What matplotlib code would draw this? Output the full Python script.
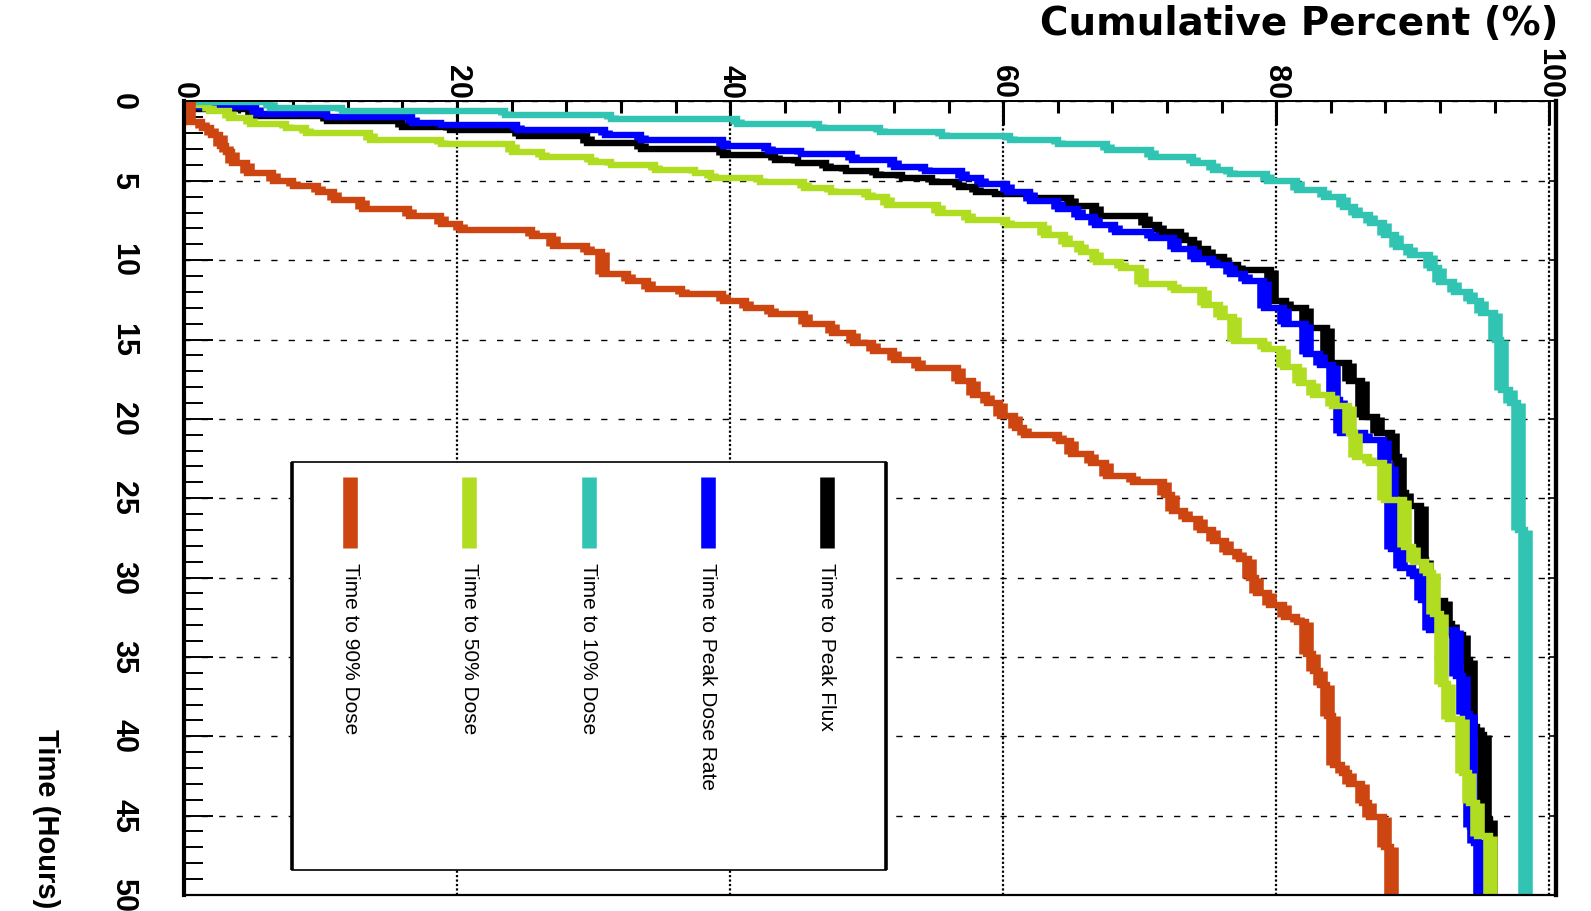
import matplotlib

matplotlib.use("Agg")
import matplotlib.pyplot as plt
import numpy as np
from matplotlib.patches import Rectangle
from matplotlib.ticker import MultipleLocator, NullLocator

NARROW = ["Liberation Sans Narrow", "Liberation Sans", "DejaVu Sans"]
plt.rcParams["font.family"] = NARROW

T_MAX = 50.0
PCT_TICKS = [0, 20, 40, 60, 80, 100]
TIME_TICKS = [0, 5, 10, 15, 20, 25, 30, 35, 40, 45, 50]

# each curve: time (hours) where a step starts, cumulative percent held from there
t_flux = [0, 0.45, 0.9, 1.2, 1.6, 1.8, 2.2, 2.6, 3.0, 3.35, 3.7, 3.9, 4.2, 4.4, 4.65,
          4.85, 5.1, 5.4, 5.7, 5.85, 6.1, 6.6, 7.2, 7.8, 8.2, 8.7, 9.3, 9.8, 10.3, 10.6,
          12.6, 13.0, 14.3, 16.5, 17.6, 19.9, 20.9, 22.4, 24.7, 25.5, 28.9, 31.5, 32.9,
          33.6, 35.2, 39.4, 39.9, 45.3]
p_flux = [0.4, 5.0, 10.5, 16.0, 19.5, 24.5, 29.5, 33.5, 39.5, 43.3, 45.0, 47.0, 48.5,
          50.7, 52.6, 54.8, 56.8, 58.0, 59.4, 62.0, 65.0, 66.8, 70.4, 71.4, 73.0, 74.0,
          75.0, 76.2, 77.2, 79.6, 80.7, 82.2, 83.7, 85.3, 86.3, 87.4, 88.5, 89.0, 89.5,
          90.6, 91.0, 92.4, 92.9, 93.7, 94.2, 94.7, 95.2, 95.7]

t_rate = [0, 0.33, 0.8, 1.0, 1.35, 1.5, 1.8, 2.1, 2.4, 2.8, 3.1, 3.3, 3.7, 4.1, 4.4,
          4.8, 5.2, 5.7, 6.3, 6.8, 7.3, 7.8, 8.2, 8.6, 9.3, 9.9, 10.3, 10.9, 11.3, 13.0,
          14.0, 15.9, 16.6, 18.8, 20.9, 21.3, 23.0, 28.2, 29.4, 29.9, 31.4, 33.3, 36.2,
          38.6, 45.7, 46.7]
p_rate = [0.4, 5.3, 10.5, 16.7, 18.8, 24.4, 30.8, 33.5, 39.5, 42.8, 45.2, 48.9, 52.0,
          54.3, 57.0, 58.4, 60.3, 62.0, 64.0, 65.5, 66.7, 68.2, 70.8, 72.5, 74.0, 75.4,
          76.6, 77.7, 79.1, 80.6, 82.2, 83.2, 84.2, 84.7, 86.5, 87.9, 88.4, 89.1, 90.0,
          90.6, 91.2, 93.2, 93.7, 94.2, 94.5, 94.9]

t_50 = [0, 0.2, 0.6, 1.05, 1.4, 1.7, 2.0, 2.4, 2.7, 3.2, 3.5, 3.8, 4.0, 4.3, 4.5, 4.85,
        5.1, 5.45, 5.7, 6.05, 6.5, 7.0, 7.45, 7.8, 8.4, 9.0, 9.5, 10.1, 10.5, 11.5, 11.9,
        12.8, 13.6, 15.1, 15.6, 16.7, 17.75, 18.5, 19.2, 20.9, 22.4, 22.8, 25.1, 28.1,
        29.0, 29.7, 32.3, 36.7, 38.9, 42.3, 44.2, 46.3]
p_50 = [0.4, 1.8, 3.3, 4.8, 7.5, 8.9, 13.6, 18.8, 24.0, 26.2, 29.8, 31.3, 34.5, 37.4,
        38.6, 42.2, 45.4, 47.4, 50.1, 51.5, 55.2, 57.4, 60.3, 63.0, 64.5, 65.7, 66.8,
        68.6, 70.1, 72.5, 74.7, 75.9, 76.9, 79.1, 80.5, 81.7, 82.7, 84.1, 85.3, 85.8,
        86.8, 87.9, 89.4, 90.0, 91.0, 91.5, 92.1, 92.6, 93.6, 94.1, 94.7, 95.7]

t_10 = [0, 0.05, 0.43, 0.6, 0.85, 1.1, 1.4, 1.67, 1.9, 2.17, 2.4, 2.7, 3.05, 3.5, 3.9,
        4.3, 4.6, 5.0, 5.6, 6.0, 6.65, 7.15, 7.65, 8.4, 9.2, 9.7, 10.5, 11.4, 12.0, 12.6,
        13.3, 15.0, 18.2, 19.0, 27.0]
p_10 = [0.8, 6.3, 11.6, 23.5, 31.3, 40.5, 46.5, 51.0, 55.5, 60.5, 64.0, 67.6, 70.8,
        73.9, 75.4, 76.6, 79.3, 81.5, 83.5, 84.9, 85.8, 86.9, 87.9, 88.8, 89.8, 91.3,
        91.9, 93.0, 94.2, 95.0, 96.0, 96.5, 97.1, 97.7, 98.2]

t_90 = [0, 1.3, 1.7, 2.1, 2.8, 3.2, 3.9, 4.5, 5.0, 5.3, 5.7, 6.2, 6.8, 7.2, 7.7, 8.1,
        8.5, 9.1, 9.5, 10.9, 11.3, 11.8, 12.1, 12.6, 13.0, 13.4, 14.0, 14.6, 15.2, 15.7,
        16.3, 16.8, 17.6, 18.5, 19.0, 19.8, 20.6, 21.0, 21.4, 22.2, 22.8, 23.6, 24.0,
        24.8, 25.8, 26.3, 27.0, 27.7, 28.4, 28.8, 30.0, 31.0, 31.7, 32.5, 32.8, 34.8,
        35.9, 36.8, 38.7, 41.8, 42.3, 43.0, 44.2, 45.1, 47.0]
p_90 = [0.3, 1.3, 2.0, 2.6, 3.1, 3.5, 4.6, 6.5, 8.0, 9.8, 11.0, 13.0, 16.5, 18.8, 20.2,
        25.5, 27.0, 29.5, 30.6, 32.5, 34.0, 36.5, 39.5, 41.2, 43.0, 45.5, 47.5, 49.0,
        50.5, 52.0, 53.8, 56.7, 57.8, 58.8, 59.8, 60.9, 61.5, 64.1, 65.0, 66.4, 67.5,
        69.5, 71.8, 72.4, 73.3, 74.4, 75.4, 76.3, 77.3, 78.0, 78.5, 79.5, 80.6, 81.5,
        82.2, 82.7, 83.2, 83.7, 84.2, 84.8, 85.3, 86.3, 86.8, 87.9, 88.4]

LABELS = ["Time to 90% Dose", "Time to 50% Dose", "Time to 10% Dose",
          "Time to Peak Dose Rate", "Time to Peak Flux"]
COLORS = ["#CD4510", "#B0DD22", "#32C4B3", "#0000FF", "#000000"]

H_LW = 4.6   # jump segments (pt)
V_LW = 10.5  # plateau segments, drawn fatter like the stretched original


def draw_steps(ax, t, p, color, z):
    t = np.asarray(list(t) + [T_MAX], dtype=float)
    p = np.asarray(p, dtype=float)
    ys = np.repeat(t, 2)[1:-1]
    xs = np.repeat(p, 2)
    ax.plot(xs, ys, color=color, lw=H_LW, solid_joinstyle="miter",
            solid_capstyle="butt", zorder=z)
    ax.vlines(p, t[:-1], t[1:], colors=color, lw=V_LW, zorder=z)


fig = plt.figure(figsize=(15.91, 9.11), dpi=100)
ax = fig.add_axes([0.1157, 0.0176, 0.8623, 0.871])

# draw order: flux underneath, 90% on top
draw_steps(ax, t_flux, p_flux, COLORS[4], 3)
draw_steps(ax, t_rate, p_rate, COLORS[3], 4)
draw_steps(ax, t_50, p_50, COLORS[1], 5)
draw_steps(ax, t_10, p_10, COLORS[2], 5)
draw_steps(ax, t_90, p_90, COLORS[0], 6)

ax.set_xlim(0, 100.5)
ax.set_ylim(T_MAX, 0)

ax.xaxis.tick_top()
ax.set_xticks(PCT_TICKS, labels=[str(v) for v in PCT_TICKS], fontsize=22,
              fontweight="bold", rotation=-90)
ax.xaxis.set_minor_locator(MultipleLocator(4))
ax.tick_params(axis="x", which="major", direction="in", length=17, width=2.2, pad=2)
ax.tick_params(axis="x", which="minor", direction="in", length=8.5, width=2.2)

ax.set_yticks(TIME_TICKS, labels=[str(v) for v in TIME_TICKS], fontsize=22,
              fontweight="bold", rotation=-90, va="center")
ax.yaxis.set_minor_locator(MultipleLocator(1))
ax.tick_params(axis="y", which="major", direction="in", length=21, width=1.4, pad=33)
ax.tick_params(axis="y", which="minor", direction="in", length=13.5, width=1.4)

ax.xaxis.grid(True, which="major", color="k", lw=1.6, ls=(0, (1, 1)), zorder=1)
ax.yaxis.grid(True, which="major", color="k", lw=1.0, ls=(0, (4.5, 8)), zorder=1)
ax.set_axisbelow(True)

for side, w in (("left", 3.0), ("right", 3.0), ("top", 1.4), ("bottom", 1.6)):
    ax.spines[side].set_linewidth(w)
    ax.spines[side].set_zorder(8)

sec = ax.secondary_yaxis("right")
sec.set_yticks(TIME_TICKS)
sec.yaxis.set_minor_locator(NullLocator())
sec.tick_params(direction="in", length=5, width=1.2, labelright=False)
sec.spines["right"].set_linewidth(3.0)

# legend box, drawn by hand to mimic the rotated ROOT legend
box_x0, box_x1, box_y0, box_y1 = 0.0787, 0.5117, 0.0315, 0.5457
ax.add_patch(Rectangle((box_x0, box_y0), box_x1 - box_x0, box_y1 - box_y0,
                       transform=ax.transAxes, facecolor="white", edgecolor="black",
                       lw=1.2, zorder=9))
for xb in (box_x0, box_x1):
    ax.plot([xb, xb], [box_y0, box_y1], transform=ax.transAxes, color="black",
            lw=2.6, solid_capstyle="butt", zorder=10)

for i, (label, color) in enumerate(zip(LABELS, COLORS)):
    xe = 0.121 + i * 0.0869
    ax.plot([xe, xe], [0.4373, 0.527], transform=ax.transAxes, color=color,
            lw=10.5, solid_capstyle="butt", zorder=10)
    ax.text(xe, 0.4184, label, transform=ax.transAxes, rotation=-90, ha="center",
            va="top", fontsize=15, zorder=10)

fig.text(1558 / 1591, 1 - 24 / 911, "Cumulative Percent (%)", ha="right", va="center",
         fontsize=28, fontweight="bold", family=["DejaVu Sans"])
fig.text(46 / 1591, 3 / 911, "Time (Hours)", rotation=-90, ha="center", va="bottom",
         fontsize=21, fontweight="bold")

fig.savefig("out.png", dpi=100)
